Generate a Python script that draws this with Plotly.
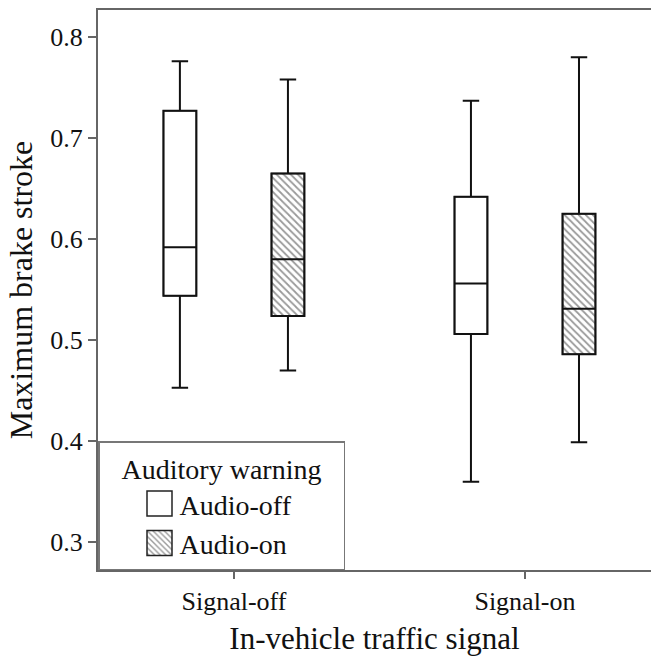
import plotly.graph_objects as go

# Five-number summaries of maximum brake stroke
signals = ["Signal-off", "Signal-on"]
warnings = ["Audio-off", "Audio-on"]

off_lower = [0.453, 0.360]
off_q1 = [0.544, 0.506]
off_median = [0.592, 0.556]
off_q3 = [0.727, 0.642]
off_upper = [0.776, 0.737]

on_lower = [0.470, 0.399]
on_q1 = [0.524, 0.486]
on_median = [0.580, 0.531]
on_q3 = [0.665, 0.625]
on_upper = [0.758, 0.780]

y_ticks = [0.3, 0.4, 0.5, 0.6, 0.7, 0.8]

FONT = "Liberation Serif"
OFFSET = 0.1856
BOX_W = 0.113

pos = list(range(len(signals)))
x_off = [p - OFFSET for p in pos]
x_on = [p + OFFSET for p in pos]

fig = go.Figure()

# Filled bodies (carry the legend swatches)
fig.add_trace(go.Bar(
    x=x_off, base=off_q1, y=[b - a for a, b in zip(off_q1, off_q3)],
    width=BOX_W, name=warnings[0],
    marker=dict(color="white", line=dict(color="#222", width=1.5)),
    hoverinfo="skip",
))
fig.add_trace(go.Bar(
    x=x_on, base=on_q1, y=[b - a for a, b in zip(on_q1, on_q3)],
    width=BOX_W, name=warnings[1],
    marker=dict(color="white", line=dict(color="#222", width=1.5),
                pattern=dict(shape="\\", size=5, solidity=0.35,
                             fgcolor="#333", bgcolor="white")),
    hoverinfo="skip",
))

# Whiskers, outlines and medians
for xs, lo, q1, med, q3, hi in [
    (x_off, off_lower, off_q1, off_median, off_q3, off_upper),
    (x_on, on_lower, on_q1, on_median, on_q3, on_upper),
]:
    fig.add_trace(go.Box(
        x=xs, lowerfence=lo, q1=q1, median=med, q3=q3, upperfence=hi,
        width=BOX_W, whiskerwidth=0.5, boxpoints=False,
        fillcolor="rgba(0,0,0,0)", line=dict(color="#111", width=2),
        showlegend=False, hoverinfo="skip",
    ))

PAD = "\u00a0\u00a0\u2009"

fig.update_layout(
    width=651, height=656,
    margin=dict(l=98, r=0, t=10, b=86),
    paper_bgcolor="white", plot_bgcolor="white",
    barmode="overlay",
    font=dict(family=FONT, color="#111", size=26),
    showlegend=True,
    legend=dict(
        x=0, y=0, xanchor="left", yanchor="bottom",
        bgcolor="white", bordercolor="#777", borderwidth=1.5,
        font=dict(family=FONT, size=28, color="#111"),
        title=dict(text=PAD + "Auditory warning" + PAD, side="top center",
                   font=dict(family=FONT, size=28, color="#111")),
        indentation=40, tracegroupgap=0,
    ),
    xaxis=dict(
        range=[-0.467, 1.433], tickvals=pos, ticktext=signals,
        showgrid=False, zeroline=False,
        showline=True, linecolor="#666", linewidth=2, mirror=True,
        ticks="outside", ticklen=7, tickcolor="#666", tickwidth=1.5,
        tickfont=dict(family=FONT, size=26),
        title=dict(text="In-vehicle traffic signal",
                   font=dict(family=FONT, size=31), standoff=14),
    ),
    yaxis=dict(
        range=[0.2726, 0.8267], tickvals=y_ticks, tickformat=".1f",
        showgrid=False, zeroline=False,
        showline=True, linecolor="#666", linewidth=2,
        ticks="outside", ticklen=8, tickcolor="#666", tickwidth=1.5,
        tickfont=dict(family=FONT, size=26),
        title=dict(text="Maximum brake stroke",
                   font=dict(family=FONT, size=32), standoff=8),
    ),
)

# Enlarge the legend swatches to full-size squares
legend_js = """
var gd = document.getElementsByClassName('plotly-graph-div')[0];
function growSwatches() {
  gd.querySelectorAll('.legendpoints path').forEach(function (p) {
    p.setAttribute('d', 'M12.5,12.5H-12.5V-12.5H12.5Z');
  });
}
growSwatches();
gd.on('plotly_afterplot', growSwatches);
"""

fig.write_html("out.html", post_script=legend_js)
